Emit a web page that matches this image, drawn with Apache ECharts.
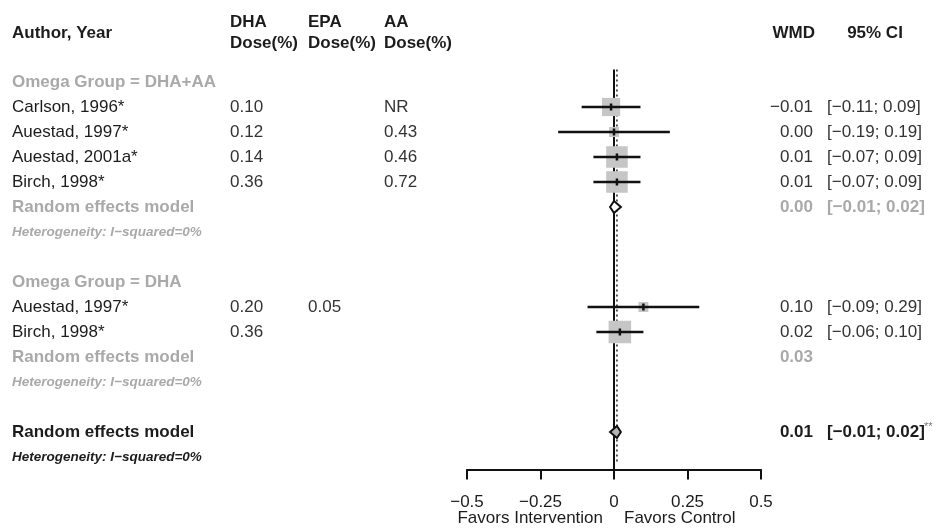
<!DOCTYPE html>
<html>
<head>
<meta charset="utf-8">
<script src="https://cdn.jsdelivr.net/npm/echarts@6/dist/echarts.min.js"></script>
<style>html,body{margin:0;padding:0;background:#fff}#chart{width:940px;height:531px}</style>
</head>
<body>
<div id="chart"></div>
<script>
// ---------- data ----------
const rowLabels = [
  'Omega Group = DHA+AA', 'Carlson, 1996*', 'Auestad, 1997*', 'Auestad, 2001a*', 'Birch, 1998*',
  'Random effects model', 'Heterogeneity: I\u2212squared=0%', '',
  'Omega Group = DHA', 'Auestad, 1997*', 'Birch, 1998*',
  'Random effects model', 'Heterogeneity: I\u2212squared=0%', '',
  'Random effects model', 'Heterogeneity: I\u2212squared=0%'
];
const rowKinds = ['group','study','study','study','study','subRE','subHet','blank',
                  'group','study','study','subRE','subHet','blank','allRE','allHet'];
const dhaDose = ['', '0.10', '0.12', '0.14', '0.36', '', '', '', '', '0.20', '0.36', '', '', '', '', ''];
const epaDose = ['', '', '', '', '', '', '', '', '', '0.05', '', '', '', '', '', ''];
const aaDose  = ['', 'NR', '0.43', '0.46', '0.72', '', '', '', '', '', '', '', '', '', '', ''];
const wmd     = [null, -0.01, 0.00, 0.01, 0.01, 0.00, null, null, null, 0.10, 0.02, 0.03, null, null, 0.01, null];
const ciLower = [null, -0.11, -0.19, -0.07, -0.07, -0.01, null, null, null, -0.09, -0.06, null, null, null, -0.01, null];
const ciUpper = [null, 0.09, 0.19, 0.09, 0.09, 0.02, null, null, null, 0.29, 0.10, null, null, null, 0.02, null];
const weights = [null, 15, 4.5, 21, 21, null, null, null, null, 4.5, 23, null, null, null, null, null];
const xTicks = [-0.5, -0.25, 0, 0.25, 0.5];
const headers = { author: 'Author, Year', dha: 'DHA', epa: 'EPA', aa: 'AA', dose: 'Dose(%)', wmd: 'WMD', ci: '95% CI' };
const favorLabels = ['Favors Intervention', 'Favors Control'];
const overallStars = '**';

// ---------- helpers ----------
const FONT = '"Liberation Sans", Arial, Helvetica, sans-serif';
const BLACK = '#1c1c1c', DARK = '#333333', GRAY = '#a9a9a9';
function fmt(v) { return (v < 0 ? '\u2212' : '') + Math.abs(v).toFixed(2); }
function txt(text, x, y, o) {
  o = o || {};
  return {
    type: 'text',
    style: {
      text: text, x: x, y: y,
      fill: o.fill || BLACK,
      fontSize: o.size || 17,
      fontFamily: FONT,
      fontWeight: o.bold ? 'bold' : 'normal',
      fontStyle: o.italic ? 'italic' : 'normal',
      align: o.align || 'left',
      verticalAlign: 'middle'
    }
  };
}
const COL = { label: 12, dha: 230, epa: 308, aa: 384, wmd: 813, ci: 827, ciHead: 875 };

function renderText(params, api) {
  const idx = params.dataIndex;
  const r = api.value(1);
  const y = api.coord([0, r])[1];
  const ch = [];
  if (idx === rowLabels.length) {
    const y1 = api.coord([0, r - 0.42])[1];
    const y2 = api.coord([0, r + 0.42])[1];
    ch.push(txt(headers.author, COL.label, y, { bold: true }));
    ch.push(txt(headers.dha, COL.dha, y1, { bold: true }));
    ch.push(txt(headers.dose, COL.dha, y2, { bold: true }));
    ch.push(txt(headers.epa, COL.epa, y1, { bold: true }));
    ch.push(txt(headers.dose, COL.epa, y2, { bold: true }));
    ch.push(txt(headers.aa, COL.aa, y1, { bold: true }));
    ch.push(txt(headers.dose, COL.aa, y2, { bold: true }));
    ch.push(txt(headers.wmd, COL.wmd + 2, y, { bold: true, align: 'right' }));
    ch.push(txt(headers.ci, COL.ciHead, y, { bold: true, align: 'center' }));
    return { type: 'group', children: ch };
  }
  if (idx === rowLabels.length + 1) {
    const x0 = api.coord([0, r])[0];
    ch.push(txt(favorLabels[0], x0 - 11, y, { fill: BLACK, align: 'right' }));
    ch.push(txt(favorLabels[1], x0 + 10, y, { fill: BLACK, align: 'left' }));
    return { type: 'group', children: ch };
  }
  const kind = rowKinds[r];
  const label = rowLabels[r];
  if (kind === 'group') ch.push(txt(label, COL.label, y, { bold: true, fill: GRAY }));
  else if (kind === 'study') ch.push(txt(label, COL.label, y, { fill: BLACK }));
  else if (kind === 'subRE') ch.push(txt(label, COL.label, y, { bold: true, fill: GRAY }));
  else if (kind === 'subHet') ch.push(txt(label, COL.label, y, { bold: true, italic: true, size: 13.5, fill: GRAY }));
  else if (kind === 'allRE') ch.push(txt(label, COL.label, y, { bold: true, fill: BLACK }));
  else if (kind === 'allHet') ch.push(txt(label, COL.label, y, { bold: true, italic: true, size: 13.5, fill: BLACK }));

  if (dhaDose[r]) ch.push(txt(dhaDose[r], COL.dha, y, { fill: DARK }));
  if (epaDose[r]) ch.push(txt(epaDose[r], COL.epa, y, { fill: DARK }));
  if (aaDose[r]) ch.push(txt(aaDose[r], COL.aa, y, { fill: DARK }));

  if (wmd[r] != null) {
    const o = kind === 'study' ? { fill: DARK } : kind === 'subRE' ? { fill: GRAY, bold: true } : { fill: BLACK, bold: true };
    ch.push(txt(fmt(wmd[r]), COL.wmd, y, Object.assign({ align: 'right' }, o)));
    if (ciLower[r] != null) {
      ch.push(txt('[' + fmt(ciLower[r]) + '; ' + fmt(ciUpper[r]) + ']', COL.ci, y, o));
      if (kind === 'allRE') ch.push(txt(overallStars, 924, y - 5, { fill: '#777', size: 11 }));
    }
  }
  return { type: 'group', children: ch };
}

function renderMarks(params, api) {
  const r = api.value(1);
  const kind = rowKinds[r];
  const est = wmd[r], lo = ciLower[r], hi = ciUpper[r];
  if (est == null || lo == null) return null;
  const c = api.coord([est, r]);
  const pl = api.coord([lo, r]);
  const ph = api.coord([hi, r]);
  if (kind === 'study') {
    const s = 4.7 * Math.sqrt(weights[r]);
    return {
      type: 'group',
      children: [
        { type: 'rect', shape: { x: c[0] - s / 2, y: c[1] - s / 2, width: s, height: s }, style: { fill: '#c6c6c6' } },
        { type: 'line', shape: { x1: pl[0], y1: c[1], x2: ph[0], y2: c[1] }, style: { stroke: '#111', lineWidth: 2.5 } },
        { type: 'line', shape: { x1: c[0], y1: c[1] - 3.5, x2: c[0], y2: c[1] + 3.5 }, style: { stroke: '#111', lineWidth: 2.5 } }
      ]
    };
  }
  const h = 6;
  return {
    type: 'polygon',
    shape: { points: [[pl[0] - 1, c[1]], [c[0], c[1] - h], [ph[0] + 1, c[1]], [c[0], c[1] + h]] },
    style: { fill: kind === 'allRE' ? '#b3b3b3' : '#ffffff', stroke: '#111', lineWidth: 2 }
  };
}

const chart = echarts.init(document.getElementById('chart'), null, { renderer: 'canvas' });
const overall = wmd[14];
chart.setOption({
  animation: false,
  backgroundColor: '#ffffff',
  grid: { left: 467, right: 179, top: 57, bottom: 61.5, containLabel: false },
  xAxis: {
    type: 'value', min: xTicks[0], max: xTicks[xTicks.length - 1], interval: 0.25,
    axisLine: { onZero: false, lineStyle: { color: '#111', width: 2 } },
    axisTick: { length: 10, lineStyle: { color: '#111', width: 2 } },
    axisLabel: {
      margin: 24, fontSize: 17, color: BLACK, fontFamily: FONT,
      formatter: function (v) { return v === 0 ? '0' : String(v).replace('-', '\u2212'); }
    },
    splitLine: { show: false }
  },
  yAxis: { type: 'value', inverse: true, min: -1, max: 15.5, show: false, axisLine: { onZero: false } },
  series: [
    { type: 'line', data: [[0, -0.5], [0, 15.5]], symbol: 'none', lineStyle: { color: '#111', width: 2 }, silent: true, z: 1 },
    { type: 'line', data: [[overall, -0.5], [overall, 15.25]], symbol: 'none', lineStyle: { color: '#222', width: 1.5, type: [2, 3] }, silent: true, z: 1 },
    { type: 'custom', renderItem: renderMarks, clip: false, z: 3, data: wmd.map(function (v, i) { return [v == null ? 0 : v, i]; }) },
    { type: 'custom', renderItem: renderText, clip: false, z: 4,
      data: rowLabels.map(function (_, i) { return [0, i]; }).concat([[0, -1.96], [0, 17.45]]) }
  ]
});
</script>
</body>
</html>
